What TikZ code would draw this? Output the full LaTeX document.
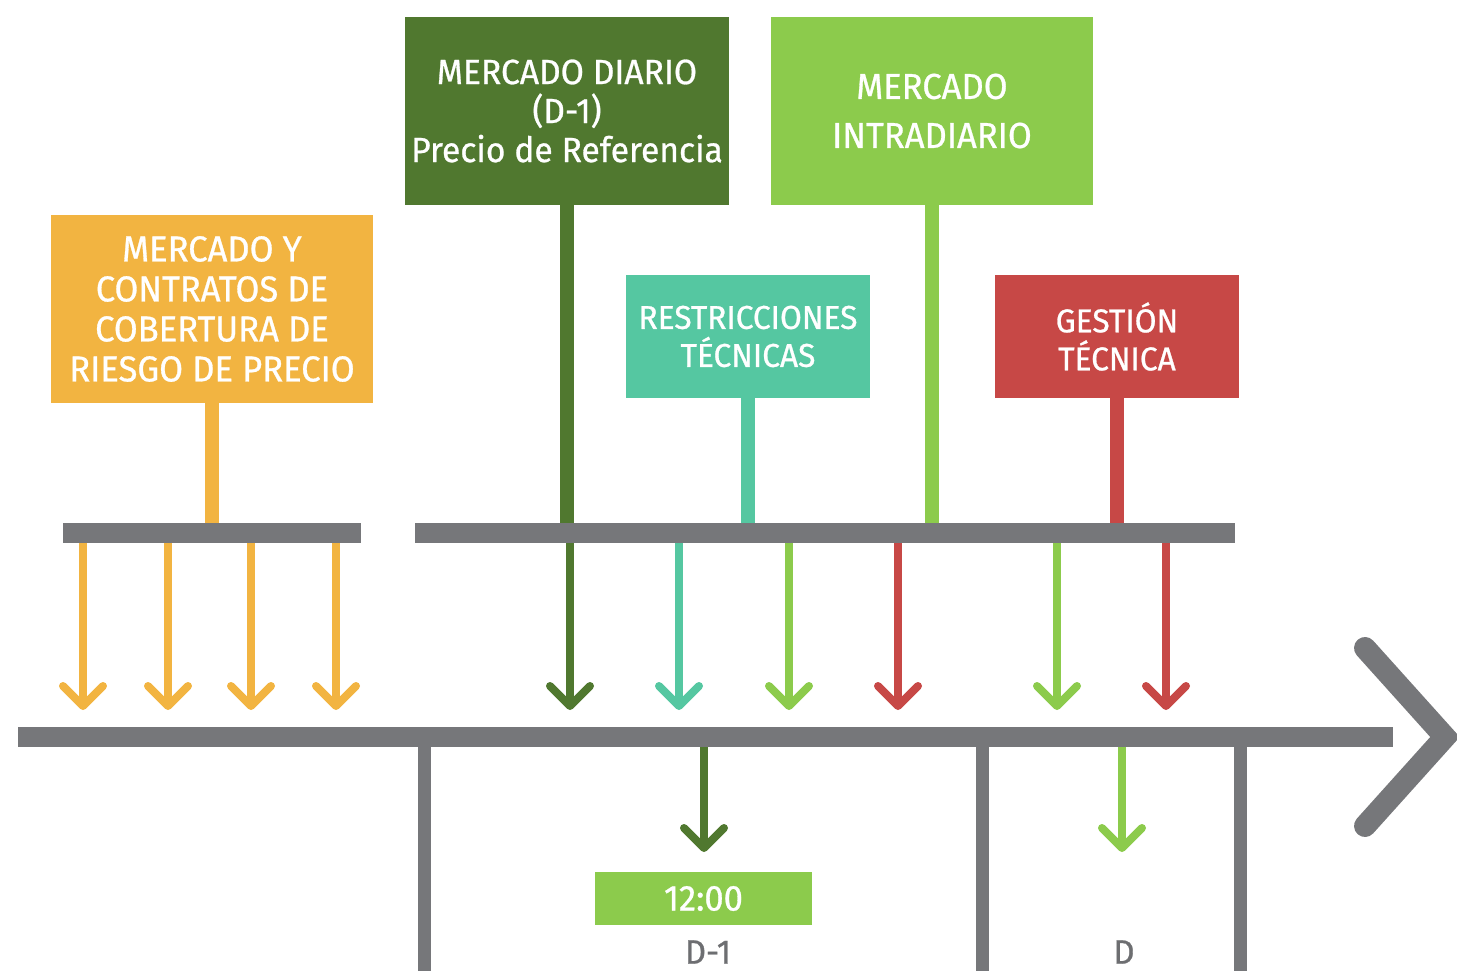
\documentclass[tikz,border=0pt]{standalone}
\usepackage{fontspec}
\setmainfont{Fira Sans}[FakeStretch=0.96, FakeBold=0.8]
\definecolor{orangeC}{HTML}{F2B441}
\definecolor{dkgreenC}{HTML}{50782F}
\definecolor{ltgreenC}{HTML}{8CCB4C}
\definecolor{tealC}{HTML}{55C7A1}
\definecolor{redC}{HTML}{C74846}
\definecolor{grayC}{HTML}{76777A}
\definecolor{txtgrayC}{HTML}{6D6E71}
\newcommand\dnarrow[5]{%
  \coordinate (#2) at (#3,#5);
  \draw[dstem, draw=#1] (#2 |- #4.south) -- (#2);
  \draw[headln, draw=#1] ([shift={(-20,-20)}]#2) -- (#2) -- ([shift={(20,-20)}]#2);}
\begin{document}
\begin{tikzpicture}[x=1pt,y=-1pt,
  box/.style={inner sep=0pt, text=white, align=center, font=\fontsize{36}{40}\selectfont},
  barbox/.style={inner sep=0pt, fill=grayC, minimum height=20pt},
  stemln/.style={line width=14pt},
  dstem/.style={line width=8pt},
  headln/.style={line width=8pt, line cap=round, line join=round},
  tick/.style={line width=13pt, draw=grayC},
  daylabel/.style={inner sep=0pt, text=txtgrayC, font=\fontsize{34}{38}\selectfont}]
\useasboundingbox (0,0) rectangle (1457,971);
% boxes
\node[box, fill=orangeC, minimum width=322pt, minimum height=188pt] (ob) at (212,309)
  {MERCADO Y\\CONTRATOS DE\\COBERTURA DE\\RIESGO DE PRECIO};
\node[box, fill=dkgreenC, minimum width=324pt, minimum height=188pt, font=\fontsize{35}{39}\selectfont] (dg) at (567,111)
  {MERCADO DIARIO\\(D-1)\\Precio de Referencia};
\node[box, fill=ltgreenC, minimum width=322pt, minimum height=188pt, font=\fontsize{36}{49}\selectfont] (lg) at (932,111)
  {MERCADO\\INTRADIARIO};
\node[box, fill=tealC, minimum width=244pt, minimum height=123pt, font=\fontsize{33}{38}\selectfont] (tb) at (748,336.5)
  {RESTRICCIONES\\TÉCNICAS};
\node[box, fill=redC, minimum width=244pt, minimum height=123pt, font=\fontsize{33}{38}\selectfont] (rb) at (1117,336.5)
  {GESTIÓN\\TÉCNICA};
% bars
\node[barbox, minimum width=298pt] (barL) at (212,533) {};
\node[barbox, minimum width=820pt] (barR) at (825,533) {};
\node[barbox, minimum width=1375pt] (axis) at (705.5,737) {};
% stems from boxes to bars
\draw[stemln, draw=orangeC] (ob.south) -- (ob.south |- barL.north);
\draw[stemln, draw=dkgreenC] (dg.south) -- (dg.south |- barR.north);
\draw[stemln, draw=tealC] (tb.south) -- (tb.south |- barR.north);
\draw[stemln, draw=ltgreenC] (lg.south) -- (lg.south |- barR.north);
\draw[stemln, draw=redC] (rb.south) -- (rb.south |- barR.north);
% arrows from bars to axis
\dnarrow{orangeC}{a1}{83}{barL}{706}
\dnarrow{orangeC}{a2}{168}{barL}{706}
\dnarrow{orangeC}{a3}{251}{barL}{706}
\dnarrow{orangeC}{a4}{336}{barL}{706}
\dnarrow{dkgreenC}{b1}{570}{barR}{706}
\dnarrow{tealC}{b2}{679}{barR}{706}
\dnarrow{ltgreenC}{b3}{789}{barR}{706}
\dnarrow{redC}{b4}{898}{barR}{706}
\dnarrow{ltgreenC}{b5}{1057}{barR}{706}
\dnarrow{redC}{b6}{1166}{barR}{706}
% ticks below axis
\coordinate (t1) at (424,980);
\coordinate (t2) at (982,980);
\coordinate (t3) at (1240,980);
\draw[tick] (t1 |- axis.center) -- (t1);
\draw[tick] (t2 |- axis.center) -- (t2);
\draw[tick] (t3 |- axis.center) -- (t3);
% arrows below axis
\dnarrow{dkgreenC}{c1}{704}{axis}{848}
\dnarrow{ltgreenC}{c2}{1122}{axis}{848}
% chevron
\coordinate (ch1) at (1365,648);
\coordinate (chA) at (1445,737);
\coordinate (ch2) at (1365,826);
\draw[line width=22pt, draw=grayC, line cap=round, line join=miter] (ch1) -- (chA) -- (ch2);
% time labels
\node[box, fill=ltgreenC, minimum width=217pt, minimum height=53pt] (hora) at (703.5,898.5) {12:00};
\node[daylabel] (dm1) at (708,952) {D-1};
\node[daylabel] (dd) at (1124,952) {D};
\end{tikzpicture}
\end{document}
